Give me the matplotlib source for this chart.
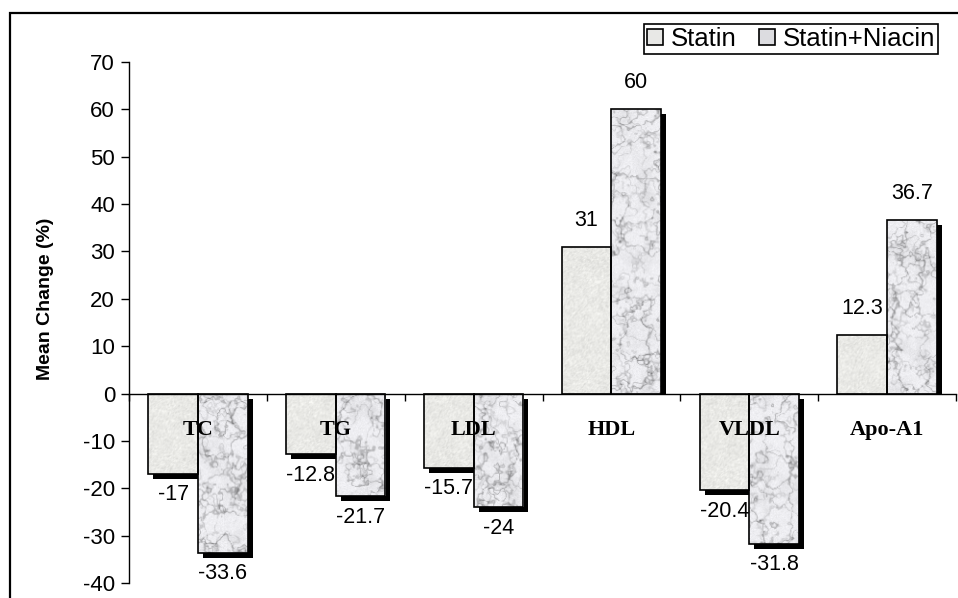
import numpy as np
import matplotlib
matplotlib.use('Agg')
import matplotlib.pyplot as plt
from matplotlib.patches import Rectangle, Patch
from matplotlib.transforms import Bbox, TransformedBbox
import matplotlib.patheffects as pe

categories = ['TC', 'TG', 'LDL', 'HDL', 'VLDL', 'Apo-A1']
statin = [-17, -12.8, -15.7, 31, -20.4, 12.3]
statin_niacin = [-33.6, -21.7, -24, 60, -31.8, 36.7]
series_names = ['Statin', 'Statin+Niacin']
yticks = list(range(-40, 80, 10))
value_labels_s = ['-17', '-12.8', '-15.7', '31', '-20.4', '12.3']
value_labels_n = ['-33.6', '-21.7', '-24', '60', '-31.8', '36.7']

W, H = 958, 598
fig = plt.figure(figsize=(W / 100, H / 100), dpi=100)
ax = fig.add_axes([129 / W, 1 - 583 / H, (956 - 129) / W, (583 - 62) / H])

SANS = 'Liberation Sans'
SERIF = 'Liberation Serif'

# ---- decorative fill textures ----
rng = np.random.default_rng(11)


def smooth_noise(h, w, cell):
    gh, gw = h // cell + 2, w // cell + 2
    g = rng.random((gh, gw))
    yy = np.arange(h) / cell
    xx = np.arange(w) / cell
    y0 = yy.astype(int)
    x0 = xx.astype(int)
    fy = (yy - y0)[:, None]
    fx = (xx - x0)[None, :]
    fy = fy * fy * (3 - 2 * fy)
    fx = fx * fx * (3 - 2 * fx)
    a = g[y0][:, x0]
    b = g[y0][:, x0 + 1]
    c = g[y0 + 1][:, x0]
    d = g[y0 + 1][:, x0 + 1]
    return a * (1 - fx) * (1 - fy) + b * fx * (1 - fy) + c * (1 - fx) * fy + d * fx * fy


def fractal(h, w, cells):
    tot = np.zeros((h, w))
    amp = 1.0
    s = 0
    for c in cells:
        tot += amp * smooth_noise(h, w, c)
        s += amp
        amp *= 0.6
    return tot / s


def speckle_tex(h, w):
    n = rng.normal(0, 1, (h, w))
    n = (n + np.roll(n, 1, 0) + np.roll(n, 1, 1)) / 3
    v = 0.915 + 0.035 * n + 0.02 * (smooth_noise(h, w, 10) - 0.5)
    v = np.clip(v, 0, 1)
    return np.stack([v, v, v * 0.985], axis=-1)


def marble_tex(h, w):
    v = np.full((h, w), 0.95)
    v -= 0.16 * np.clip(fractal(h, w, [18, 9, 4]) - 0.5, 0, 1)
    for amp in (0.22, 0.16, 0.10):
        f = fractal(h, w, [26, 13, 6, 3])
        vein = np.exp(-((f - 0.5) / 0.02) ** 2)
        v -= amp * vein
    v += 0.015 * rng.normal(0, 1, (h, w))
    v = np.clip(v, 0, 1)
    return np.stack([v * 0.985, v * 0.985, v], axis=-1)


px_per_unit = (583 - 62) / 110.0
bw = 0.36
shadow = [pe.SimplePatchShadow(offset=(3.6, -3.6), shadow_rgbFace='black', alpha=1.0), pe.Normal()]
upper_clip = TransformedBbox(Bbox([[0, 0], [6, 70]]), ax.transData)

for i, (vs, vn) in enumerate(zip(statin, statin_niacin)):
    c = i + 0.5
    for x0, val, texf in ((c - bw, vs, speckle_tex), (c, vn, marble_tex)):
        base = ax.bar(x0, val, width=bw, align='edge', color='white', edgecolor='none',
                      zorder=2)[0]
        base.set_path_effects(shadow)
        if val > 0:
            base.set_clip_box(upper_clip)
        hpx = max(int(abs(val) * px_per_unit), 4)
        tex = texf(hpx, 52)
        im = ax.imshow(tex, extent=[x0, x0 + bw, min(0, val), max(0, val)], aspect='auto',
                       zorder=2.5, interpolation='bilinear')
        im.set_clip_path(base)
        ax.bar(x0, val, width=bw, align='edge', color='none', edgecolor='black',
               linewidth=1.2, zorder=3)

# value labels
for i, (vs, vn) in enumerate(zip(statin, statin_niacin)):
    c = i + 0.5
    for xc, val, lab in ((c - bw / 2, vs, value_labels_s[i]), (c + bw / 2, vn, value_labels_n[i])):
        off = 19 if val > 0 else -15
        ax.annotate(lab, (xc, val), xytext=(0, off), textcoords='offset points',
                    ha='center', va='center', fontsize=15.5, family=SANS, zorder=6)

# category labels
for i, cat in enumerate(categories):
    ax.text(i + 0.5, -7.8, cat, ha='center', va='center', fontsize=16,
            family=SERIF, fontweight='bold', zorder=6)

ax.set_xlim(0, 6)
ax.set_ylim(-40, 70)
ax.set_yticks(yticks)
ax.set_yticklabels([str(t) for t in yticks], family=SANS, fontsize=16)
ax.set_xticks(range(7))
ax.set_xticklabels([''] * 7)
ax.tick_params(axis='y', length=6, width=1, pad=4, direction='out')
ax.tick_params(axis='x', length=5, width=1, direction='out')
ax.spines['top'].set_visible(False)
ax.spines['right'].set_visible(False)
ax.spines['bottom'].set_position(('data', 0))
ax.spines['bottom'].set_linewidth(1)
ax.spines['left'].set_linewidth(1)
ax.set_facecolor('none')
ax.spines['bottom'].set_zorder(4)

fig.text(46 / W, 1 - 299 / H, 'Mean Change (%)', rotation=90, ha='center', va='center',
         fontsize=14, fontweight='bold', family=SANS)

handles = [Patch(facecolor='#e8e8e6', edgecolor='black', linewidth=1.2),
           Patch(facecolor='#dcdce0', edgecolor='black', linewidth=1.2)]
leg = fig.legend(handles, series_names, loc='upper right', ncol=2,
                 bbox_to_anchor=(938 / W, 1 - 24 / H), bbox_transform=fig.transFigure,
                 prop={'family': SANS, 'size': 18.5}, handlelength=0.6, handleheight=0.6,
                 handletextpad=0.3, columnspacing=0.9, borderpad=0.12, borderaxespad=0,
                 fancybox=False, framealpha=1, edgecolor='black')
leg.get_frame().set_linewidth(1.2)

fig.add_artist(Rectangle((10 / W, -0.1), 1.2, (1 - 13 / H) + 0.1, transform=fig.transFigure,
                         fill=False, linewidth=1.6, edgecolor='black'))

fig.savefig('out.png', dpi=100)
